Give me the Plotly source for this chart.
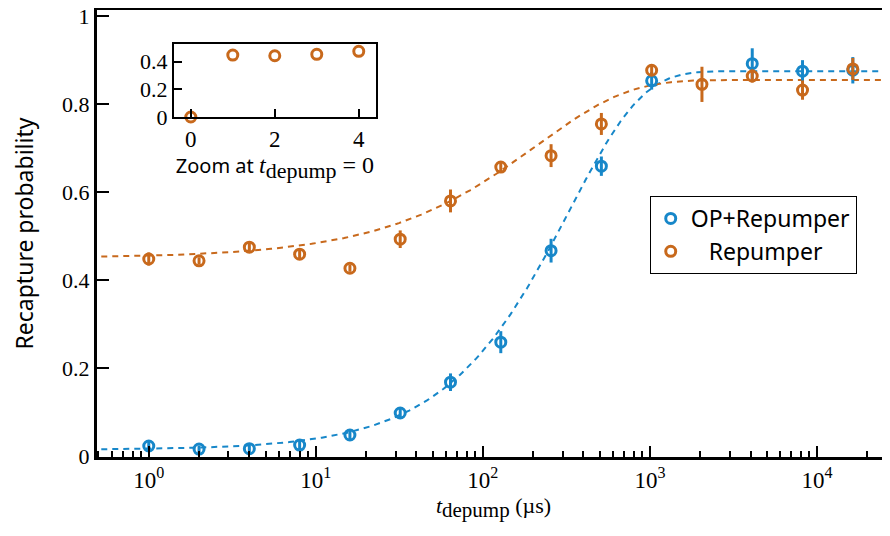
import numpy as np
import plotly.graph_objects as go

# ---- data ----
t_us = [1, 2, 4, 8, 16, 32, 64, 128, 256, 512, 1024, 2048, 4096, 8192, 16384]

op_t = [1, 2, 4, 8, 16, 32, 64, 128, 256, 512, 1024, 4096, 8192, 16384]
op_y = [0.023, 0.016, 0.017, 0.025, 0.048, 0.098, 0.168, 0.259, 0.467, 0.659, 0.853, 0.892, 0.875, 0.877]
op_err = [0.01, 0.008, 0.008, 0.01, 0.01, 0.012, 0.02, 0.025, 0.027, 0.022, 0.02, 0.035, 0.025, 0.03]

rp_y = [0.448, 0.444, 0.475, 0.459, 0.427, 0.493, 0.580, 0.657, 0.683, 0.755, 0.877, 0.845, 0.864, 0.832, 0.880]
rp_err = [0.015, 0.008, 0.01, 0.01, 0.008, 0.02, 0.026, 0.012, 0.026, 0.025, 0.012, 0.04, 0.015, 0.022, 0.025]

inset_x = [0, 1, 2, 3, 4]
inset_y = [0.0, 0.448, 0.443, 0.453, 0.475]

# fit parameters (stretched exponential rise)
op_fit = dict(base=0.014, top=0.875, tau=330.0, beta=1.0)
rp_fit = dict(base=0.45, top=0.855, tau=210.0, beta=0.8)

y_ticks = [0, 0.2, 0.4, 0.6, 0.8, 1]
y_ticklabels = ["0", "0.2", "0.4", "0.6", "0.8", "1"]
x_ticks = [1, 10, 100, 1000, 10000]
x_ticklabels = ["10<sup>0</sup>", "10<sup>1</sup>", "10<sup>2</sup>", "10<sup>3</sup>", "10<sup>4</sup>"]

BLUE = "#1787C9"
ORANGE = "#C8691C"
SERIF = "Liberation Serif"
SANS = "Noto Sans"


def fit_curve(t, p):
    return p["top"] - (p["top"] - p["base"]) * np.exp(-(t / p["tau"]) ** p["beta"])


t_fit = np.logspace(-0.35, 4.5, 400)

fig = go.Figure()

fig.add_trace(go.Scatter(x=t_fit, y=fit_curve(t_fit, op_fit), mode="lines",
                         line=dict(color=BLUE, width=2, dash="6px,5px"), showlegend=False,
                         hoverinfo="skip"))
fig.add_trace(go.Scatter(x=t_fit, y=fit_curve(t_fit, rp_fit), mode="lines",
                         line=dict(color=ORANGE, width=2, dash="6px,5px"), showlegend=False,
                         hoverinfo="skip"))

fig.add_trace(go.Scatter(x=op_t, y=op_y, mode="markers", name="OP+Repumper",
                         marker=dict(symbol="circle-open", size=10, color=BLUE, line=dict(width=3, color=BLUE)),
                         error_y=dict(type="data", array=op_err, thickness=3, width=0, color=BLUE),
                         cliponaxis=False))
fig.add_trace(go.Scatter(x=t_us, y=rp_y, mode="markers", name="\u00a0\u00a0\u00a0Repumper",
                         marker=dict(symbol="circle-open", size=10, color=ORANGE, line=dict(width=3, color=ORANGE)),
                         error_y=dict(type="data", array=rp_err, thickness=3, width=0, color=ORANGE),
                         cliponaxis=False))

fig.add_trace(go.Scatter(x=inset_x, y=inset_y, mode="markers", xaxis="x2", yaxis="y2",
                         marker=dict(symbol="circle-open", size=10, color=ORANGE, line=dict(width=3, color=ORANGE)),
                         showlegend=False, cliponaxis=False))

x_title = ("<i>t</i><sub><span style='font-size:21px'>depump</span></sub> (µs)")
inset_title = ("Zoom at <span style='font-family:Liberation Serif;font-size:24px'><i>t</i>"
               "<sub><span style='font-size:22px'>depump</span></sub> = 0</span>")

fig.update_layout(
    width=882, height=528,
    margin=dict(l=89, r=0, t=2, b=79),
    paper_bgcolor="white", plot_bgcolor="white",
    showlegend=True,
    legend=dict(x=0.697, y=0.584, xanchor="left", yanchor="top",
                bordercolor="black", borderwidth=1, bgcolor="white",
                font=dict(family=SANS, size=23, color="black"),
                itemwidth=30, tracegroupgap=0),
    xaxis=dict(type="log", range=[np.log10(0.49), 4.437], automargin=False,
               showline=True, linewidth=3, linecolor="black", mirror=True,
               ticks="inside", ticklen=11, tickwidth=2, tickcolor="black",
               tickvals=x_ticks, ticktext=x_ticklabels, ticklabeloverflow="allow",
               tickfont=dict(family=SERIF, size=23, color="black"),
               minor=dict(ticks="inside", ticklen=6, tickwidth=1.5, tickcolor="black", dtick="D1"),
               showgrid=False, zeroline=False,
               title=dict(text=x_title,
                          font=dict(family=SERIF, size=22, color="black"), standoff=6)),
    yaxis=dict(range=[-0.002, 1.014], automargin=False,
               showline=True, linewidth=3, linecolor="black", mirror=False,
               ticks="inside", ticklen=12, tickwidth=2, tickcolor="black",
               tickvals=y_ticks, ticktext=y_ticklabels, ticklabeloverflow="allow",
               tickfont=dict(family=SERIF, size=22, color="black"),
               showgrid=False, zeroline=False,
               title=dict(text="Recapture probability",
                          font=dict(family=SANS, size=23, color="black"), standoff=30)),
    xaxis2=dict(domain=[0.0971, 0.3518], anchor="y2", range=[-0.40, 4.41], automargin=False,
                showline=True, linewidth=2, linecolor="black", mirror=True,
                ticks="inside", ticklen=8, tickwidth=2, tickcolor="black",
                tickvals=[0, 2, 4], ticktext=["0", "2", "4"],
                tickfont=dict(family=SERIF, size=23, color="black"),
                showgrid=False, zeroline=False,
                title=dict(text=inset_title,
                           font=dict(family=SANS, size=20, color="black"), standoff=4)),
    yaxis2=dict(domain=[0.7606, 0.924], anchor="x2", range=[0, 0.528], automargin=False,
                showline=True, linewidth=2, linecolor="black", mirror=True,
                ticks="inside", ticklen=8, tickwidth=2, tickcolor="black",
                tickvals=[0, 0.2, 0.4], ticktext=["0", "0.2", "0.4"],
                tickfont=dict(family=SERIF, size=22, color="black"),
                showgrid=False, zeroline=False),
)

fig.write_html("out.html")
